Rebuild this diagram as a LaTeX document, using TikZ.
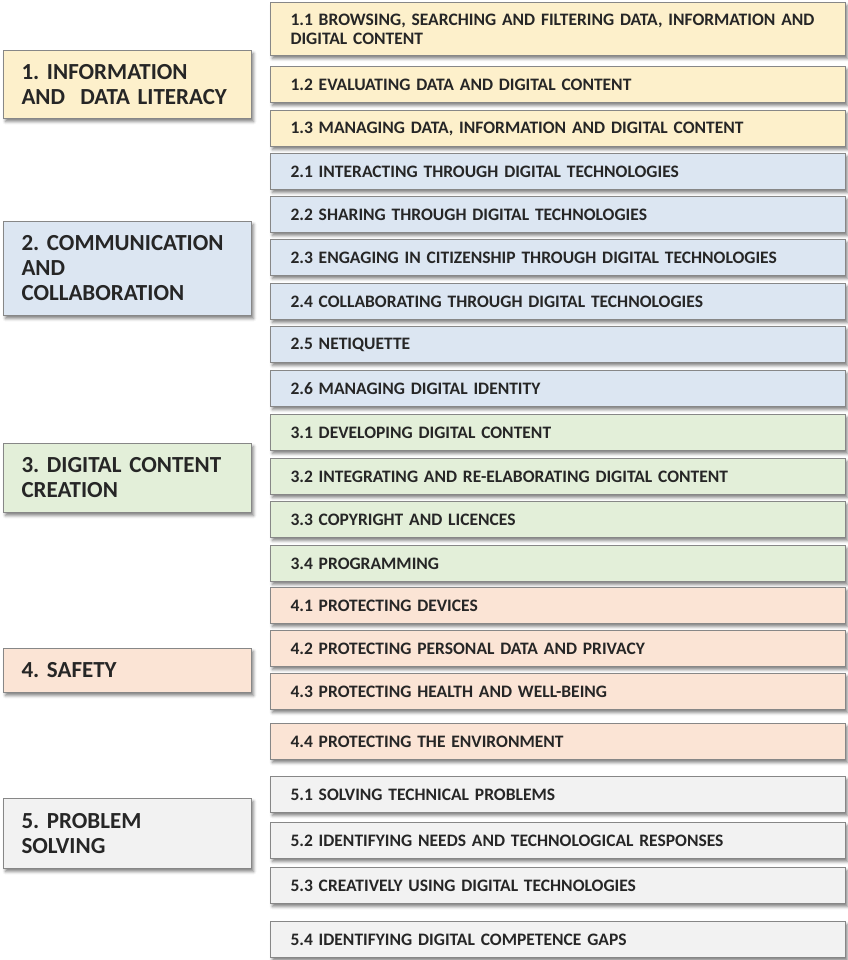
\documentclass[tikz,border=0pt]{standalone}
\usepackage{fontspec}
\setmainfont{Carlito}
\usetikzlibrary{shadows.blur}

\definecolor{infofill}{RGB}{253,240,203}
\definecolor{commfill}{RGB}{220,230,242}
\definecolor{createfill}{RGB}{227,239,217}
\definecolor{safefill}{RGB}{251,228,213}
\definecolor{solvefill}{RGB}{242,242,242}
\definecolor{boxline}{RGB}{135,135,135}

\tikzset{
  box/.style={draw=boxline, line width=1pt, anchor=north west, align=left,
    text=black!85, inner ysep=0pt, execute at begin node=\frenchspacing,
    blur shadow={shadow xshift=2pt, shadow yshift=-3pt, shadow opacity=50, shadow blur radius=3pt}},
  area/.style={box, font=\bfseries\fontsize{23}{25}\selectfont, inner xsep=18pt, text width=212pt, minimum width=248pt},
  comp/.style={box, font=\bfseries\fontsize{17.5}{19}\selectfont, inner xsep=20pt, text width=535pt, minimum width=575pt, minimum height=36pt}
}

\begin{document}
\begin{tikzpicture}[x=1pt, y=-1pt]
  \useasboundingbox (0,0) rectangle (847,960);

  % competence areas
  \node[area, fill=infofill, minimum height=68pt] (info) at (3,50) {1. INFORMATION\\AND\ \ DATA LITERACY};
  \node[area, fill=commfill, minimum height=94pt] (comm) at (3,221) {2. COMMUNICATION\\AND\\COLLABORATION};
  \node[area, fill=createfill, minimum height=69pt] (create) at (3,443) {3. DIGITAL CONTENT\\CREATION};
  \node[area, fill=safefill, minimum height=44pt] (safety) at (3,648) {4. SAFETY};
  \node[area, fill=solvefill, minimum height=70pt] (solve) at (3,798) {5. PROBLEM\\SOLVING};

  % competences
  \node[comp, fill=infofill, minimum height=53pt] (c11) at (270,2) {1.1 BROWSING, SEARCHING AND FILTERING DATA, INFORMATION AND\\DIGITAL CONTENT};
  \foreach \n/\t/\s in {c12/66/{1.2 EVALUATING DATA AND DIGITAL CONTENT},
                        c13/110/{1.3 MANAGING DATA, INFORMATION AND DIGITAL CONTENT}}
    \node[comp, fill=infofill] (\n) at (270,\t) {\s};
  \foreach \n/\t/\s in {c21/153/{2.1 INTERACTING THROUGH DIGITAL TECHNOLOGIES},
                        c22/196/{2.2 SHARING THROUGH DIGITAL TECHNOLOGIES},
                        c23/239/{2.3 ENGAGING IN CITIZENSHIP THROUGH DIGITAL TECHNOLOGIES},
                        c24/283/{2.4 COLLABORATING THROUGH DIGITAL TECHNOLOGIES},
                        c25/326/{2.5 NETIQUETTE},
                        c26/370/{2.6 MANAGING DIGITAL IDENTITY}}
    \node[comp, fill=commfill] (\n) at (270,\t) {\s};
  \foreach \n/\t/\s in {c31/414/{3.1 DEVELOPING DIGITAL CONTENT},
                        c32/458/{3.2 INTEGRATING AND RE-ELABORATING DIGITAL CONTENT},
                        c33/501/{3.3 COPYRIGHT AND LICENCES},
                        c34/545/{3.4 PROGRAMMING}}
    \node[comp, fill=createfill] (\n) at (270,\t) {\s};
  \foreach \n/\t/\s in {c41/587/{4.1 PROTECTING DEVICES},
                        c42/630/{4.2 PROTECTING PERSONAL DATA AND PRIVACY},
                        c43/673/{4.3 PROTECTING HEALTH AND WELL-BEING},
                        c44/723/{4.4 PROTECTING THE ENVIRONMENT}}
    \node[comp, fill=safefill] (\n) at (270,\t) {\s};
  \foreach \n/\t/\s in {c51/776/{5.1 SOLVING TECHNICAL PROBLEMS},
                        c52/822/{5.2 IDENTIFYING NEEDS AND TECHNOLOGICAL RESPONSES},
                        c53/867/{5.3 CREATIVELY USING DIGITAL TECHNOLOGIES},
                        c54/921/{5.4 IDENTIFYING DIGITAL COMPETENCE GAPS}}
    \node[comp, fill=solvefill] (\n) at (270,\t) {\s};
\end{tikzpicture}
\end{document}
